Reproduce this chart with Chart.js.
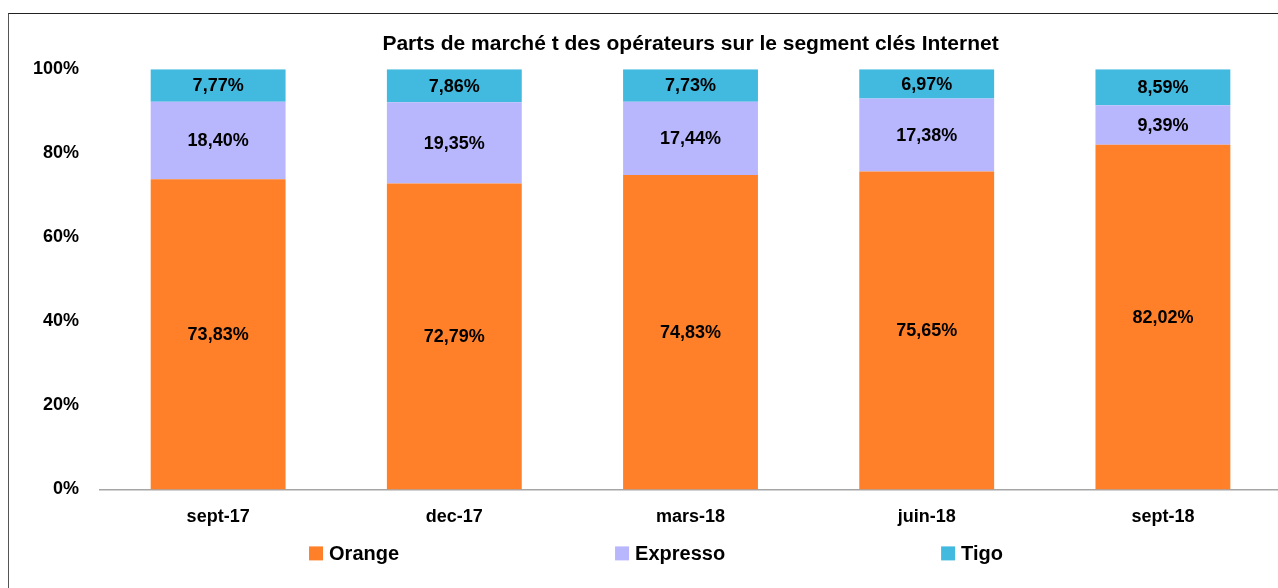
<!DOCTYPE html>
<html>
<head>
<meta charset="utf-8">
<script src="https://cdn.jsdelivr.net/npm/chart.js@4/dist/chart.umd.min.js"></script>
<style>
  html, body { margin: 0; padding: 0; background: #fff; overflow: hidden; }
  #wrap { position: relative; width: 1300px; height: 588px; }
  #cadre { position: absolute; left: 8px; top: 13px; width: 1400px; height: 700px;
           border-left: 1px solid #555; border-top: 1px solid #222; }
  canvas { position: absolute; left: 0; top: 0; }
</style>
</head>
<body>
<div id="wrap">
  <div id="cadre"></div>
  <canvas id="graficoParts" width="1300" height="588"></canvas>
</div>
<script>
// données
const periodes = ['sept-17', 'dec-17', 'mars-18', 'juin-18', 'sept-18'];
const orange = [73.83, 72.79, 74.83, 75.65, 82.02];
const expresso = [18.40, 19.35, 17.44, 17.38, 9.39];
const tigo = [7.77, 7.86, 7.73, 6.97, 8.59];
const ticksY = [0, 20, 40, 60, 80, 100];

const police = '"Liberation Sans", Arial, sans-serif';

function formatPct(v) {
    return v.toFixed(2).replace('.', ',') + '%';
}

// étiquettes de valeur au centre de chaque segment
const etiquettesPlugin = {
    id: 'etiquettes',
    afterDatasetsDraw(chart) {
        const ctx = chart.ctx;
        ctx.save();
        ctx.font = 'bold 18px ' + police;
        ctx.fillStyle = '#000';
        ctx.textAlign = 'center';
        ctx.textBaseline = 'middle';
        chart.data.datasets.forEach((ds, i) => {
            const meta = chart.getDatasetMeta(i);
            meta.data.forEach((bar, j) => {
                const y = (bar.y + bar.base) / 2;
                ctx.fillText(formatPct(ds.data[j]), bar.x, y + 1);
            });
        });
        ctx.restore();
    }
};

// légende en bas, espacement large comme dans l'original
const legendePlugin = {
    id: 'legende',
    afterDraw(chart) {
        const ctx = chart.ctx;
        const area = chart.chartArea;
        ctx.save();
        ctx.font = 'bold 20px ' + police;
        ctx.textBaseline = 'middle';
        ctx.textAlign = 'left';
        let x = area.left + 209;
        const y = area.bottom + 64;
        chart.data.datasets.forEach(ds => {
            ctx.fillStyle = ds.backgroundColor;
            ctx.fillRect(x, y - 7, 14, 14);
            ctx.fillStyle = '#000';
            const tx = x + 14 + 6;
            ctx.fillText(ds.label, tx, y + 1);
            x = tx + ctx.measureText(ds.label).width + 216;
        });
        ctx.restore();
    }
};

const ctx = document.getElementById('graficoParts').getContext('2d');
new Chart(ctx, {
    type: 'bar',
    data: {
        labels: periodes,
        datasets: [
            { label: 'Orange', data: orange, backgroundColor: '#FF8029' },
            { label: 'Expresso', data: expresso, backgroundColor: '#B8B7FE' },
            { label: 'Tigo', data: tigo, backgroundColor: '#42B9DF' }
        ]
    },
    options: {
        responsive: false,
        animation: false,
        layout: { padding: { left: 12, right: 19, top: 0, bottom: 43 } },
        datasets: {
            bar: { categoryPercentage: 1, barPercentage: 0.571, borderWidth: 0 }
        },
        plugins: {
            legend: { display: false },
            tooltip: { enabled: false },
            title: {
                display: true,
                fullSize: false,
                text: 'Parts de marché t des opérateurs sur le segment clés Internet',
                color: '#000',
                font: { family: police, size: 21, weight: 'bold' },
                padding: { top: 32, bottom: 12 }
            }
        },
        scales: {
            x: {
                stacked: true,
                grid: { display: false, drawTicks: false },
                border: { display: true, color: '#A6A6A6', width: 1.5 },
                ticks: {
                    color: '#000',
                    padding: 17,
                    font: { family: police, size: 18, weight: 'bold' }
                }
            },
            y: {
                stacked: true,
                min: 0,
                max: 100,
                afterBuildTicks(axis) {
                    axis.ticks = ticksY.map(v => ({ value: v }));
                },
                grid: { display: false, drawTicks: false },
                border: { display: false },
                ticks: {
                    color: '#000',
                    padding: 21,
                    font: { family: police, size: 18, weight: 'bold' },
                    callback: v => v + '%'
                }
            }
        }
    },
    plugins: [etiquettesPlugin, legendePlugin]
});
</script>
</body>
</html>
